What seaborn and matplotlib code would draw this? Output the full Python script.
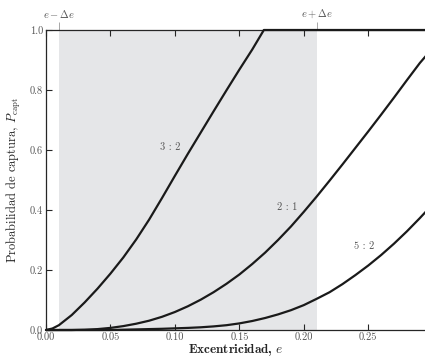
# Capture probability vs eccentricity for three resonances
import pandas as pd
import matplotlib
matplotlib.use("Agg")
import matplotlib.pyplot as plt
import seaborn as sns

# Data
e_32 = [0.0, 0.005, 0.01, 0.02, 0.03, 0.04, 0.05, 0.06, 0.07, 0.08, 0.09, 0.10,
        0.11, 0.12, 0.13, 0.14, 0.15, 0.16, 0.169, 0.295]
p_32 = [0.0, 0.005, 0.016, 0.050, 0.092, 0.138, 0.188, 0.242, 0.302, 0.368, 0.440, 0.514,
        0.587, 0.658, 0.729, 0.799, 0.868, 0.935, 1.0, 1.0]

e_21 = [0.0, 0.02, 0.03, 0.04, 0.05, 0.06, 0.07, 0.08, 0.09, 0.10, 0.11, 0.12, 0.13,
        0.14, 0.15, 0.16, 0.17, 0.18, 0.19, 0.20, 0.21, 0.22, 0.23, 0.24, 0.25,
        0.26, 0.27, 0.28, 0.29, 0.295]
p_21 = [0.0, 0.0, 0.001, 0.003, 0.007, 0.013, 0.021, 0.031, 0.044, 0.060, 0.079, 0.101, 0.126,
        0.154, 0.185, 0.220, 0.258, 0.300, 0.345, 0.394, 0.445, 0.498, 0.552, 0.607, 0.662,
        0.718, 0.775, 0.833, 0.890, 0.915]

e_52 = [0.0, 0.05, 0.07, 0.09, 0.11, 0.12, 0.13, 0.14, 0.15, 0.16, 0.17, 0.18, 0.19,
        0.20, 0.21, 0.22, 0.23, 0.24, 0.25, 0.26, 0.27, 0.28, 0.29, 0.295]
p_52 = [0.0, 0.0, 0.002, 0.004, 0.007, 0.009, 0.012, 0.016, 0.022, 0.030, 0.040, 0.052, 0.066,
        0.083, 0.104, 0.126, 0.153, 0.183, 0.215, 0.250, 0.288, 0.329, 0.373, 0.396]

resonances = ["3 : 2", "2 : 1", "5 : 2"]
label_pos = [(0.096, 0.61), (0.187, 0.41), (0.247, 0.278)]

e_lo, e_hi = 0.01, 0.21

df = pd.concat([
    pd.DataFrame({"e": e_32, "P": p_32, "res": resonances[0]}),
    pd.DataFrame({"e": e_21, "P": p_21, "res": resonances[1]}),
    pd.DataFrame({"e": e_52, "P": p_52, "res": resonances[2]}),
])

sns.set_style("ticks")
plt.rcParams["font.family"] = "serif"
plt.rcParams["font.serif"] = ["cmr10"]
plt.rcParams["mathtext.fontset"] = "cm"
plt.rcParams["axes.formatter.use_mathtext"] = True

fig = plt.figure(figsize=(4.25, 3.6), dpi=100)
ax = fig.add_axes([46 / 425, 30 / 360, 1 - 46 / 425, 300 / 360])

ax.axvspan(e_lo, e_hi, color="#e5e6e8", lw=0, zorder=0)

sns.lineplot(data=df, x="e", y="P", hue="res", estimator=None, sort=False,
             palette=["#1a1a1a"] * 3, linewidth=1.6, legend=False, ax=ax, zorder=3,
             clip_on=False)

for name, (x, y) in zip(resonances, label_pos):
    ax.text(x, y, name, fontsize=7.5, color="#555555", ha="center", va="center")

ax.set_xlim(0, 0.294)
ax.set_ylim(0, 1.0)
ax.set_xticks([0.0, 0.05, 0.10, 0.15, 0.20, 0.25])
ax.set_xticklabels(["0.00", "0.05", "0.10", "0.15", "0.20", "0.25"])
ax.set_yticks([0.0, 0.2, 0.4, 0.6, 0.8, 1.0])
ax.set_yticklabels(["0.0", "0.2", "0.4", "0.6", "0.8", "1.0"])
ax.tick_params(direction="in", length=4, width=0.8, labelsize=7.5, labelcolor="#555555",
               top=True, pad=2)
ax.tick_params(axis="x", pad=1.5)
ax.spines["right"].set_visible(False)
for s in ["left", "bottom", "top"]:
    ax.spines[s].set_linewidth(0.9)

ax.set_xlabel(r"Excentricidad, $e$", fontsize=9.5, labelpad=0, fontfamily="cmb10")
ax.set_ylabel(r"Probabilidad de captura, $P_{\rm capt}$", fontsize=9, labelpad=5)

top = ax.secondary_xaxis("top")
top.set_xticks([e_lo, e_hi])
top.set_xticklabels([r"$e - \Delta e$", r"$e + \Delta e$"])
top.tick_params(direction="out", length=6, width=0.6, color="#999999",
                labelsize=7.5, labelcolor="#555555", pad=1)
top.spines["top"].set_visible(False)

fig.savefig("out.png", dpi=100)
